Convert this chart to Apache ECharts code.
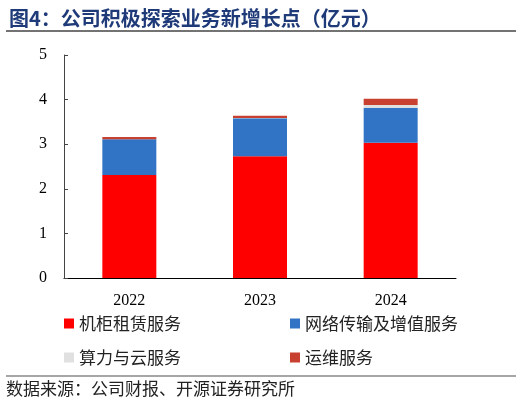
<!DOCTYPE html>
<html>
<head>
<meta charset="utf-8">
<script src="https://cdn.jsdelivr.net/npm/echarts@6/dist/echarts.min.js"></script>
<style>
    html, body {margin: 0; padding: 0; background: #fff;}
    #chart {width: 522px; height: 405px;}
</style>
</head>
<body>
<div id="chart"></div>
<script>
// 数据（亿元）
var years = ['2022', '2023', '2024'];
var rackRental = [2.31, 2.73, 3.03];
var networkService = [0.80, 0.85, 0.79];
var computeCloud = [0.0, 0.01, 0.06];
var opsService = [0.05, 0.05, 0.14];
var yTicks = [0, 1, 2, 3, 4, 5];

var seriesNames = ['机柜租赁服务', '网络传输及增值服务', '算力与云服务', '运维服务'];
var seriesColors = ['#FF0000', '#3174C6', '#E0E0E0', '#C8402F'];
var seriesData = [rackRental, networkService, computeCloud, opsService];

var cjk = '"Noto Sans CJK SC", sans-serif';
var serif = '"Liberation Serif", "DejaVu Serif", serif';

var chart = echarts.init(document.getElementById('chart'));

// 图例：两列两行
var legendPos = [[64, 315], [290, 315], [64, 349], [290, 349]];
var legends = seriesNames.map(function(name, i) {
    return {
        left: legendPos[i][0],
        top: legendPos[i][1],
        padding: 0,
        data: [name],
        icon: 'rect',
        itemWidth: 10,
        itemHeight: 10,
        itemGap: 4,
        textStyle: {fontFamily: cjk, fontSize: 17, color: '#222'}
    };
});

var option = {
    animation: false,
    title: {
        text: '图4：公司积极探索业务新增长点（亿元）',
        left: 4,
        top: 3,
        textStyle: {fontFamily: cjk, fontSize: 20, fontWeight: 'bold', color: '#1F3A78'}
    },
    legend: legends,
    grid: {
        left: 64,
        right: 66,
        top: 55,
        bottom: 127
    },
    xAxis: {
        type: 'category',
        data: years,
        axisLine: {lineStyle: {color: '#000', width: 1}},
        axisTick: {show: false},
        axisLabel: {fontFamily: serif, fontSize: 16, color: '#000', margin: 15}
    },
    yAxis: {
        type: 'value',
        min: yTicks[0],
        max: yTicks[yTicks.length - 1],
        interval: 1,
        splitLine: {show: false},
        axisLine: {show: true, lineStyle: {color: '#444', width: 1}},
        axisTick: {show: true, inside: true, length: 4, lineStyle: {color: '#444'}},
        axisLabel: {fontFamily: serif, fontSize: 16, color: '#000', margin: 17}
    },
    series: seriesNames.map(function(name, i) {
        return {
            name: name,
            type: 'bar',
            stack: 'total',
            barWidth: 54,
            itemStyle: {color: seriesColors[i]},
            data: seriesData[i]
        };
    }),
    graphic: [
        {type: 'line', shape: {x1: 6, y1: 31, x2: 516, y2: 31}, style: {stroke: '#444', lineWidth: 1.5}},
        {type: 'line', shape: {x1: 6, y1: 376, x2: 516, y2: 376}, style: {stroke: '#888', lineWidth: 1.5}},
        {
            type: 'text',
            left: 6,
            top: 380,
            style: {text: '数据来源：公司财报、开源证券研究所', font: '17px "Noto Sans CJK SC"', fill: '#222'}
        }
    ]
};

chart.setOption(option);
</script>
</body>
</html>
